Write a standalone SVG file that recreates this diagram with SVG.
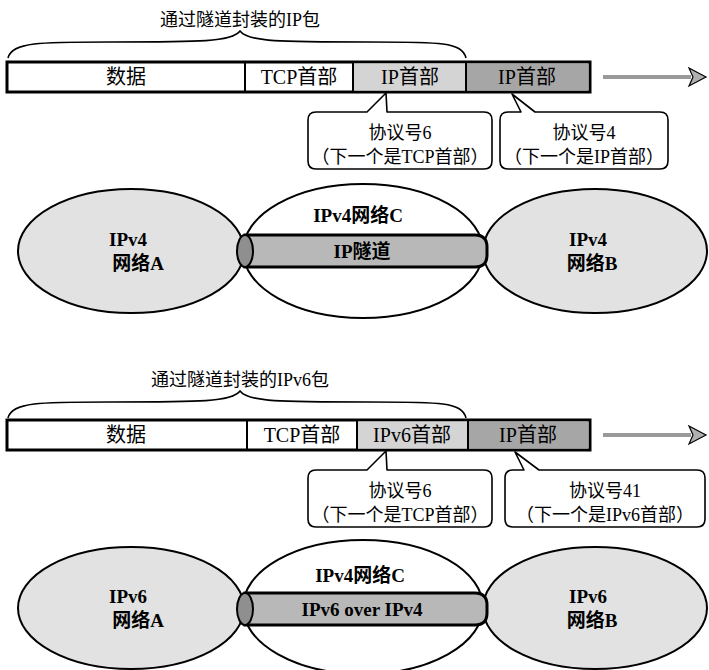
<svg xmlns="http://www.w3.org/2000/svg" width="709" height="670" viewBox="0 0 709 670">
<style>
text{font-family:"Liberation Serif","Noto Sans CJK SC",serif;fill:#000;text-anchor:middle}
.t{font-size:18px}
.p{font-size:20px}
.b{font-size:19px;font-weight:bold}
.bar{fill:#fff;stroke:#000;stroke-width:3}
.c1{fill:#d4d4d4}
.c2{fill:#a6a6a6}
.div{stroke:#000;stroke-width:2}
.brace{fill:none;stroke:#000;stroke-width:1.6}
.call{fill:#fff;stroke:#000;stroke-width:1.6;stroke-linejoin:round}
.net{fill:#e2e2e2;stroke:#000;stroke-width:2}
.mid{fill:#fff;stroke:#000;stroke-width:2}
.tun{fill:#b8b8b8;stroke:#000;stroke-width:3}
.cap{fill:#8f8f8f;stroke:#000;stroke-width:2}
.shaft{fill:#9a9a9a}
.head{fill:#b0b0b0;stroke:#000;stroke-width:1.2}
</style>

<!-- ===== Top: IPv4 over IPv4 ===== -->
<g id="top-title">
<text class="t" x="240" y="26">通过隧道封装的IP包</text>
<path class="brace" d="M8,58 C12,42 40,42 110,42 C200,42 232,42 240,31 C248,42 280,42 370,42 C440,42 462,42 466,58"/>
</g>
<g id="top-packet">
<rect class="bar" x="7" y="62" width="583" height="30"/>
<rect class="c1" x="354" y="63.5" width="112" height="27"/>
<rect class="c2" x="467" y="63.5" width="121.5" height="27"/>
<line class="div" x1="245" y1="62" x2="245" y2="92"/>
<line class="div" x1="353" y1="62" x2="353" y2="92"/>
<line class="div" x1="466" y1="62" x2="466" y2="92"/>
<text class="p" x="126" y="84">数据</text>
<text class="p" x="299" y="84">TCP首部</text>
<text class="p" x="410" y="84">IP首部</text>
<text class="p" x="527" y="84">IP首部</text>
</g>
<g id="top-arrow">
<rect class="shaft" x="603" y="75" width="88" height="4"/>
<path class="head" d="M689,68 L706,77 L689,86 L693,77 Z"/>
</g>
<g id="top-callout1">
<path class="call" d="M318,112 L367,112 L386,93 L387,112 L484,112 Q492,112 492,120 L492,161 Q492,169 484,169 L316,169 Q308,169 308,161 L308,120 Q308,112 316,112 Z"/>
<text class="t" x="400" y="139">协议号6</text>
<text class="t" x="400" y="163">（下一个是TCP首部）</text>
</g>
<g id="top-callout2">
<path class="call" d="M508,112 L521,112 L512,94 L535,112 L660,112 Q668,112 668,120 L668,161 Q668,169 660,169 L508,169 Q500,169 500,161 L500,120 Q500,112 508,112 Z"/>
<text class="t" x="584" y="139">协议号4</text>
<text class="t" x="584" y="163">（下一个是IP首部）</text>
</g>
<g id="top-netC">
<ellipse class="mid" cx="363" cy="251" rx="120" ry="67"/>
<text class="b" x="358" y="222">IPv4网络C</text>
</g>
<g id="top-netA">
<ellipse class="net" cx="131" cy="251" rx="113" ry="62"/>
<text class="b" x="128" y="246">IPv4</text>
<text class="b" x="138" y="270">网络A</text>
</g>
<g id="top-netB">
<ellipse class="net" cx="595" cy="251" rx="112" ry="62"/>
<text class="b" x="588" y="246">IPv4</text>
<text class="b" x="592" y="270">网络B</text>
</g>
<g id="top-tunnel">
<path class="tun" d="M245,235 L475,235 Q487,235 487,247 L487,255 Q487,267 475,267 L245,267 Z"/>
<ellipse class="cap" cx="245" cy="251" rx="8" ry="16"/>
<text class="b" x="362" y="258">IP隧道</text>
</g>

<!-- ===== Bottom: IPv6 over IPv4 ===== -->
<g id="bot-title">
<text class="t" x="240" y="386">通过隧道封装的IPv6包</text>
<path class="brace" d="M8,418 C12,402 40,402 110,402 C200,402 232,402 240,391 C248,402 280,402 370,402 C440,402 462,402 466,418"/>
</g>
<g id="bot-packet">
<rect class="bar" x="7" y="420" width="583" height="30"/>
<rect class="c1" x="358" y="421.5" width="110" height="27"/>
<rect class="c2" x="469" y="421.5" width="119.5" height="27"/>
<line class="div" x1="247" y1="420" x2="247" y2="450"/>
<line class="div" x1="357" y1="420" x2="357" y2="450"/>
<line class="div" x1="468" y1="420" x2="468" y2="450"/>
<text class="p" x="126" y="442">数据</text>
<text class="p" x="302" y="442">TCP首部</text>
<text class="p" x="412" y="442">IPv6首部</text>
<text class="p" x="528" y="442">IP首部</text>
</g>
<g id="bot-arrow">
<rect class="shaft" x="603" y="433" width="88" height="4"/>
<path class="head" d="M689,426 L706,435 L689,444 L693,435 Z"/>
</g>
<g id="bot-callout1">
<path class="call" d="M318,470 L367,470 L386,451 L387,470 L484,470 Q492,470 492,478 L492,519 Q492,527 484,527 L316,527 Q308,527 308,519 L308,478 Q308,470 316,470 Z"/>
<text class="t" x="400" y="497">协议号6</text>
<text class="t" x="400" y="521">（下一个是TCP首部）</text>
</g>
<g id="bot-callout2">
<path class="call" d="M513,470 L524,470 L515,452 L539,470 L697,470 Q705,470 705,478 L705,519 Q705,527 697,527 L513,527 Q505,527 505,519 L505,478 Q505,470 513,470 Z"/>
<text class="t" x="605" y="497">协议号41</text>
<text class="t" x="605" y="521">（下一个是IPv6首部）</text>
</g>
<g id="bot-netC">
<ellipse class="mid" cx="363" cy="607" rx="120" ry="67"/>
<text class="b" x="360" y="582">IPv4网络C</text>
</g>
<g id="bot-netA">
<ellipse class="net" cx="131" cy="608" rx="113" ry="61"/>
<text class="b" x="128" y="603">IPv6</text>
<text class="b" x="138" y="627">网络A</text>
</g>
<g id="bot-netB">
<ellipse class="net" cx="595" cy="608" rx="112" ry="61"/>
<text class="b" x="588" y="603">IPv6</text>
<text class="b" x="592" y="627">网络B</text>
</g>
<g id="bot-tunnel">
<path class="tun" d="M245,593 L475,593 Q487,593 487,605 L487,613 Q487,625 475,625 L245,625 Z"/>
<ellipse class="cap" cx="245" cy="609" rx="8" ry="16"/>
<text class="b" x="362" y="616">IPv6 over IPv4</text>
</g>
<g id="connectors"></g>
</svg>
